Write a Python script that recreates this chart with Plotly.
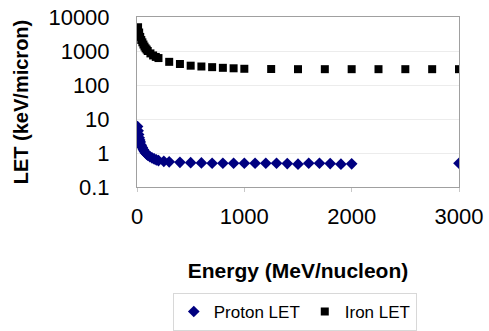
import plotly.graph_objects as go

proton_energy = [5, 10, 15, 20, 25, 30, 40, 50, 60, 70, 80, 90, 100, 120, 140, 160, 180, 200,
                 250, 300, 400, 500, 600, 700, 800, 900, 1000, 1100, 1200, 1300, 1400, 1500,
                 1600, 1700, 1800, 1900, 2000, 3000]
proton_let = [6.0, 4.5, 3.5, 2.8, 2.4, 2.1, 1.7, 1.45, 1.25, 1.1, 1.0, 0.93, 0.87, 0.78, 0.72,
              0.67, 0.63, 0.6, 0.57, 0.55, 0.53, 0.52, 0.51, 0.5, 0.5, 0.5, 0.5, 0.5, 0.5,
              0.5, 0.49, 0.47, 0.5, 0.5, 0.49, 0.47, 0.48, 0.5]

iron_energy = [10, 20, 30, 40, 50, 60, 70, 80, 90, 100, 125, 150, 175, 200,
               300, 400, 500, 600, 700, 800, 900, 1000, 1250, 1500, 1750, 2000,
               2250, 2500, 2750, 3000]
iron_let = [5000, 3500, 2600, 2100, 1800, 1550, 1350, 1200, 1100, 1000, 850, 740, 670, 620,
            480, 415, 370, 350, 335, 320, 310, 300, 295, 292, 292, 292, 292, 292, 292, 292]

x_ticks = [0, 1000, 2000, 3000]
y_ticks = [0.1, 1, 10, 100, 1000, 10000]
y_tick_text = ["0.1", "1", "10", "100", "1000", "10000"]

font_family = "Liberation Sans, Arial, sans-serif"

fig = go.Figure()
fig.add_trace(go.Scatter(
    x=proton_energy, y=proton_let, mode="markers", name="Proton LET",
    marker=dict(symbol="diamond", size=9, color="#000080"),
))
fig.add_trace(go.Scatter(
    x=iron_energy, y=iron_let, mode="markers", name="Iron LET",
    marker=dict(symbol="square", size=8, color="#000000"),
))

fig.update_layout(
    width=489, height=331,
    margin=dict(l=137, r=30, t=17, b=144, autoexpand=False),
    paper_bgcolor="white", plot_bgcolor="white",
    font=dict(family=font_family, color="#000000"),
    showlegend=True,
    legend=dict(
        orientation="h", x=0.49, xanchor="center", y=-0.735, yanchor="middle",
        font=dict(size=17, family=font_family), bordercolor="#d8d8d8", borderwidth=1,
        itemwidth=30, tracegroupgap=0,
    ),
    xaxis=dict(
        range=[0, 3000], tickvals=x_ticks, ticktext=[str(v) for v in x_ticks],
        tickfont=dict(size=22), showgrid=False, zeroline=False, automargin=False,
        showline=True, linecolor="#a0a0a0", mirror=True, linewidth=1,
        ticks="outside", ticklen=4, tickcolor="#c8c8c8", ticklabelstandoff=6,
        title=dict(text="<b>Energy (MeV/nucleon)</b>", font=dict(size=21), standoff=34),
    ),
    yaxis=dict(
        type="log", range=[-1, 4], tickvals=y_ticks, ticktext=y_tick_text,
        tickfont=dict(size=22), showgrid=True, gridcolor="#ececec", zeroline=False,
        automargin=False,
        showline=True, linecolor="#a0a0a0", mirror=True, linewidth=1,
        ticks="", ticklabelstandoff=22,
        title=dict(text="<b>LET (keV/micron)</b>", font=dict(size=20), standoff=14),
    ),
)

fig.write_html("out.html")
